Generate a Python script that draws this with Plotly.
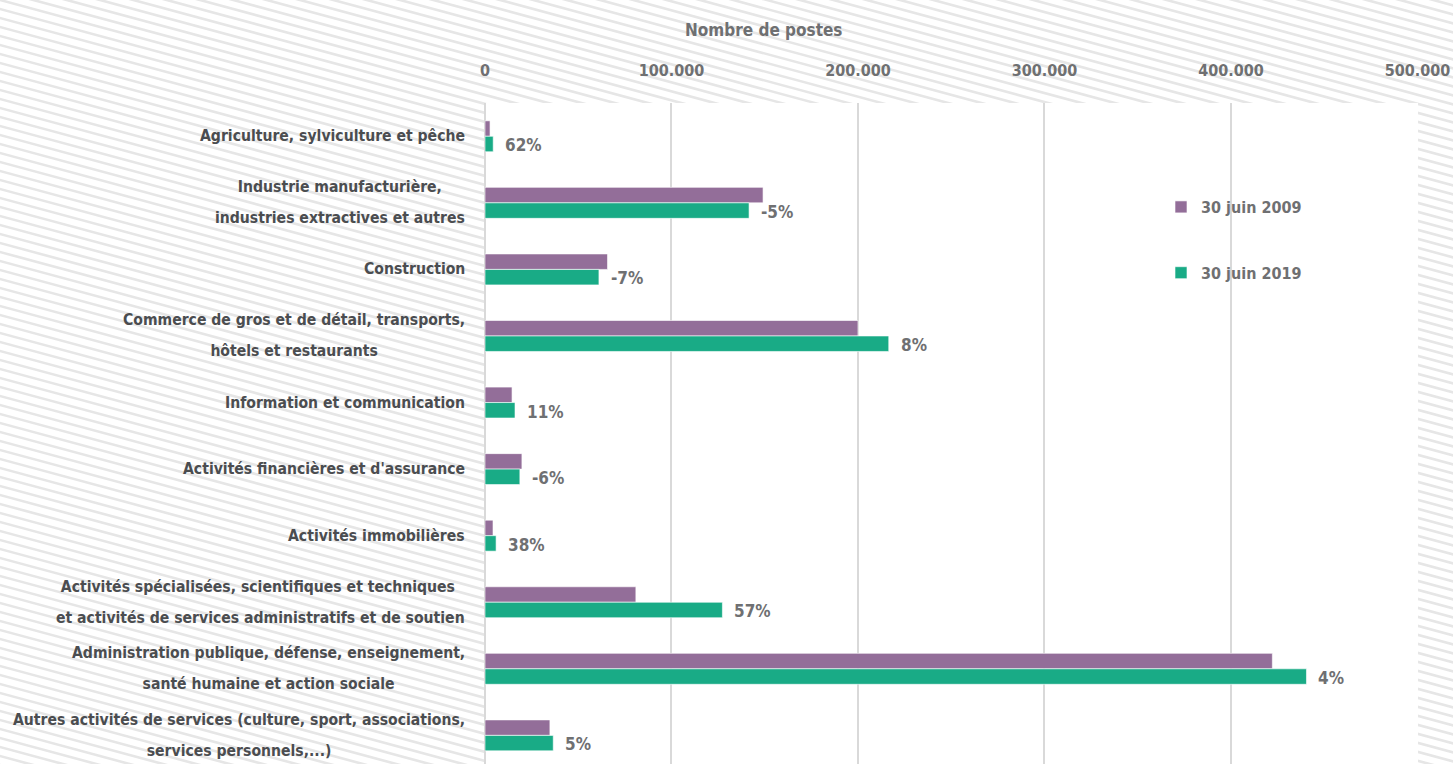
import plotly.graph_objects as go

categories = [
    "Agriculture, sylviculture et pêche",
    "Industrie manufacturière, industries extractives et autres",
    "Construction",
    "Commerce de gros et de détail, transports, hôtels et restaurants",
    "Information et communication",
    "Activités financières et d'assurance",
    "Activités immobilières",
    "Activités spécialisées, scientifiques et techniques et activités de services administratifs et de soutien",
    "Administration publique, défense, enseignement, santé humaine et action sociale",
    "Autres activités de services (culture, sport, associations, services personnels,...)",
]
label_lines = [
    ["Agriculture, sylviculture et pêche"],
    ["Industrie manufacturière,", "industries extractives et autres"],
    ["Construction"],
    ["Commerce de gros et de détail, transports,", "hôtels et restaurants"],
    ["Information et communication"],
    ["Activités financières et d'assurance"],
    ["Activités immobilières"],
    ["Activités spécialisées, scientifiques et techniques ", "et activités de services administratifs et de soutien"],
    ["Administration publique, défense, enseignement,", "santé humaine et action sociale"],
    ["Autres activités de services (culture, sport, associations,", "services personnels,...)"],
]
postes_2009 = [2700, 149100, 65700, 200000, 14500, 19800, 4300, 80900, 422200, 34800]
postes_2019 = [4400, 141600, 61100, 216500, 16100, 18700, 5950, 127300, 440500, 36600]
evolution = ["62%", "-5%", "-7%", "8%", "11%", "-6%", "38%", "57%", "4%", "5%"]
series_names = ["30 juin 2009", "30 juin 2019"]
x_ticks = [0, 100000, 200000, 300000, 400000, 500000]

FONT = "DejaVu Sans Condensed, Liberation Sans Narrow, sans-serif"
PURPLE = "#936e99"
GREEN = "#19ab86"
LABEL_COLOR = "#4b4d50"
TICK_COLOR = "#6f7072"

W, H = 1453, 764
ML, MR, MT, MB = 485, 35, 103, 0
PW, PH = W - ML - MR, H - MT - MB

fig = go.Figure()
fig.add_trace(go.Bar(
    y=categories, x=postes_2009, orientation="h", name=series_names[0],
    marker=dict(color=PURPLE, line=dict(color="rgba(255,255,255,0.6)", width=1)),
    legendgroup="a",
))
fig.add_trace(go.Bar(
    y=categories, x=postes_2019, orientation="h", name=series_names[1],
    marker=dict(color=GREEN, line=dict(color="rgba(255,255,255,0.6)", width=1)),
    legendgroup="b",
))

# striped background (pixel -> paper coordinates)
def px2paper(px, py):
    return (px - ML) / PW, 1 - (py - MT) / PH

slope = 0.27
period = 9
segs = []
for k in range(-46, 88):
    y0 = k * period
    xa, ya = px2paper(-5, y0 - 5 * slope)
    xb, yb = px2paper(W + 5, y0 + (W + 5) * slope)
    segs.append(f"M{xa:.5f},{ya:.5f} L{xb:.5f},{yb:.5f}")
shapes = [
    dict(type="path", path=" ".join(segs), xref="paper", yref="paper",
         line=dict(color="#e6e6e6", width=2.6), layer="below"),
    dict(type="rect", xref="paper", yref="paper", x0=0, x1=1, y0=0, y1=1,
         fillcolor="white", line=dict(width=0), layer="below"),
]

annotations = []
for cat, lines in zip(categories, label_lines):
    txt = "<br>".join(f"<span style='font-size:15.6px'>{l}</span>" for l in lines)
    annotations.append(dict(
        x=-18 / PW, xref="paper", y=cat, yref="y", text=txt, showarrow=False,
        xanchor="right", yanchor="middle", align="center",
        font=dict(family=FONT, size=24, color=LABEL_COLOR, weight="bold"),
    ))
for cat, val, ev in zip(categories, postes_2019, evolution):
    annotations.append(dict(
        x=val, xref="x", y=cat, yref="y", text=ev, showarrow=False,
        xanchor="left", yanchor="middle", xshift=10, yshift=-9,
        font=dict(family=FONT, size=17, color=TICK_COLOR, weight="bold"),
    ))
annotations.append(dict(
    x=(763 - ML) / PW, xref="paper", y=1 + (MT - 30) / PH, yref="paper",
    text="Nombre de postes", showarrow=False, xanchor="center", yanchor="middle",
    font=dict(family=FONT, size=17, color=TICK_COLOR, weight="bold"),
))

fig.update_layout(
    width=W, height=H,
    margin=dict(l=ML, r=MR, t=MT, b=MB, pad=0),
    paper_bgcolor="white", plot_bgcolor="white",
    font=dict(family=FONT, color=TICK_COLOR, size=16, weight="bold"),
    separators=",.",
    barmode="group", bargap=0.535, bargroupgap=0,
    shapes=shapes, annotations=annotations,
    legend=dict(
        x=(1161 - ML) / PW, y=1 - (190 - MT) / PH, xanchor="left", yanchor="top",
        bgcolor="rgba(0,0,0,0)", tracegroupgap=42,
        font=dict(family=FONT, size=16, color=TICK_COLOR, weight="bold"),
    ),
    showlegend=True,
)
fig.update_xaxes(
    range=[0, 500300], side="top", tickvals=x_ticks, tickformat=",d",
    showgrid=True, gridcolor="#d9d9d9", gridwidth=2,
    zeroline=True, zerolinecolor="#d9d9d9", zerolinewidth=2,
    showline=False, ticks="outside", ticklen=20, tickcolor="rgba(0,0,0,0)",
    tickfont=dict(family=FONT, size=16, color=TICK_COLOR, weight="bold"),
)
fig.update_yaxes(
    type="category", categoryorder="array", categoryarray=categories,
    range=[9.43, -0.5], showticklabels=False, showgrid=False, zeroline=False,
    showline=False, ticks="",
)

fig.write_html(
    "out.html",
    config={"displayModeBar": False},
    post_script="document.body.style.margin='0px';",
)
